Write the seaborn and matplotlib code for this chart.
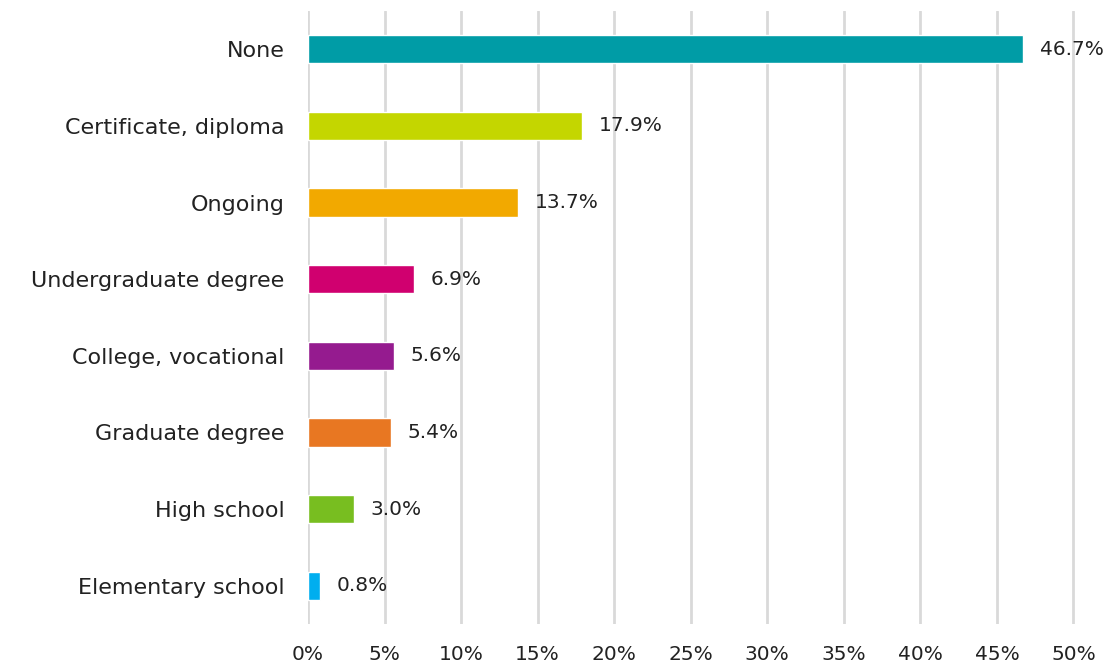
import pandas as pd
import numpy as np
import matplotlib.pyplot as plt
import seaborn as sns

categories = ["None", "Certificate, diploma", "Ongoing", "Undergraduate degree",
              "College, vocational", "Graduate degree", "High school", "Elementary school"]
values = [46.7, 17.9, 13.7, 6.9, 5.6, 5.4, 3.0, 0.8]
colors = ["#009CA6", "#C4D600", "#F2A900", "#D0006F",
          "#951B8F", "#E87722", "#78BE20", "#00AEEF"]
xticks = list(range(0, 55, 5))

sns.set_style("white")
plt.rcParams['font.family'] = ['DejaVu Sans']

data = pd.DataFrame({"category": categories, "value": values})

fig = plt.figure(figsize=(11.09, 6.66), dpi=100)
ax = fig.add_axes([308 / 1109, 1 - 624 / 666, (1075 - 308) / 1109, (624 - 11) / 666])

sns.barplot(data=data, x="value", y="category", hue="category", palette=colors,
            legend=False, width=0.37, ax=ax, saturation=1)

# value labels next to each bar
for i, v in enumerate(values):
    ax.text(v + 1.1, i, f"{v:.1f}%", va="center", ha="left", fontsize=14.5, color="#222222")

ax.set_xlim(0, 50.1)
ax.set_ylim(7.5, -0.5)
ax.set_xticks(xticks)
ax.set_xticklabels([f"{t}%" for t in xticks], fontsize=14.5, color="#222222")
ax.tick_params(axis="y", labelsize=16, labelcolor="#222222", pad=17, length=0)
ax.tick_params(axis="x", pad=15, length=0)
ax.set_xlabel("")
ax.set_ylabel("")
ax.xaxis.grid(True, color="#D9D9D9", linewidth=2)
ax.set_axisbelow(True)
for s in ax.spines.values():
    s.set_visible(False)

plt.savefig("out.png", dpi=100)
